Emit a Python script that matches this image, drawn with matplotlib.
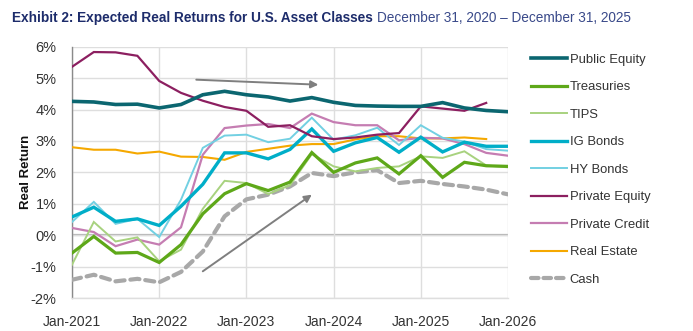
import matplotlib
matplotlib.use("Agg")
import matplotlib.pyplot as plt
from matplotlib.lines import Line2D

# Quarter-end observations, Dec 2020 .. Dec 2025 (index 0 = Jan-2021 tick)
quarters = list(range(21))
year_ticks = [0, 4, 8, 12, 16, 20]
year_labels = ["Jan-2021", "Jan-2022", "Jan-2023", "Jan-2024", "Jan-2025", "Jan-2026"]

public_equity = [4.26, 4.24, 4.16, 4.17, 4.05, 4.16, 4.47, 4.58, 4.47, 4.40, 4.27,
                 4.38, 4.23, 4.13, 4.11, 4.10, 4.10, 4.22, 4.05, 3.97, 3.93]
treasuries = [-0.57, -0.04, -0.57, -0.55, -0.87, -0.30, 0.68, 1.32, 1.64, 1.42, 1.69,
              2.63, 2.00, 2.30, 2.46, 1.95, 2.53, 1.84, 2.32, 2.21, 2.19]
tips = [-0.94, 0.42, -0.20, -0.07, -0.83, -0.46, 0.84, 1.73, 1.66, 1.31, 1.59,
        2.58, 2.19, 2.03, 2.14, 2.19, 2.51, 2.46, 2.67, 2.22, 2.16]
ig_bonds = [0.58, 0.89, 0.44, 0.52, 0.31, 0.92, 1.62, 2.62, 2.62, 2.43, 2.73,
            3.38, 2.67, 2.94, 3.11, 2.64, 3.12, 2.65, 2.96, 2.83, 2.83]
hy_bonds = [0.42, 1.06, 0.36, 0.52, -0.06, 1.13, 2.78, 3.17, 3.20, 2.96, 3.07,
            3.74, 3.04, 3.18, 3.42, 2.87, 3.50, 3.10, 2.98, 2.74, 2.69]
private_equity = [5.36, 5.83, 5.82, 5.71, 4.91, 4.53, 4.28, 4.08, 3.96, 3.45, 3.50,
                  3.15, 3.06, 3.11, 3.20, 3.25, 4.10, 4.03, 3.96, 4.21]
private_credit = [0.23, 0.10, -0.35, -0.14, -0.30, 0.25, 2.56, 3.41, 3.49, 3.54, 3.41,
                  3.87, 3.60, 3.50, 3.50, 3.02, 3.10, 3.08, 2.90, 2.62, 2.53]
real_estate = [2.80, 2.72, 2.72, 2.60, 2.66, 2.50, 2.49, 2.40, 2.65, 2.75, 2.85,
               2.90, 2.90, 3.05, 3.15, 3.15, 3.08, 3.08, 3.11, 3.06]
cash = [-1.42, -1.26, -1.47, -1.39, -1.50, -1.17, -0.52, 0.60, 1.14, 1.29, 1.55,
        1.98, 1.88, 2.00, 2.07, 1.66, 1.73, 1.63, 1.55, 1.45, 1.30]

# Trend arrows (start, end) in quarter / percent units
arrow_down = ((5.7, 4.95), (11.3, 4.79))
arrow_up = ((6.0, -1.15), (11.0, 1.29))

TITLE_BOLD = "Exhibit 2: Expected Real Returns for U.S. Asset Classes"
TITLE_DATES = "December 31, 2020 \u2013 December 31, 2025"

plt.rcParams["font.family"] = ["Liberation Sans", "DejaVu Sans"]

fig = plt.figure(figsize=(6.93, 3.31), dpi=100)
ax = fig.add_axes([72 / 693, 1 - 298 / 331, (508 - 72) / 693, (298 - 46.7) / 331])

series = [
    ("Public Equity", public_equity, "#0b6670", 2.6, "-"),
    ("Treasuries", treasuries, "#5ea819", 2.3, "-"),
    ("TIPS", tips, "#a8d27f", 1.4, "-"),
    ("IG Bonds", ig_bonds, "#00aec8", 2.4, "-"),
    ("HY Bonds", hy_bonds, "#72d0e2", 1.4, "-"),
    ("Private Equity", private_equity, "#8c1f60", 1.6, "-"),
    ("Private Credit", private_credit, "#c57db2", 1.6, "-"),
    ("Real Estate", real_estate, "#f5a800", 1.5, "-"),
    ("Cash", cash, "#a8a8a8", 3.0, (0, (2.2, 1.4))),
]

draw_order = ["Cash", "Real Estate", "Private Credit", "HY Bonds", "TIPS",
              "Treasuries", "IG Bonds", "Private Equity", "Public Equity"]
handles = []
for name, vals, color, lw, ls in series:
    z = 3 + draw_order.index(name)
    ax.plot(quarters[:len(vals)], vals, color=color, lw=lw, ls=ls, zorder=z,
            solid_joinstyle="miter", dash_capstyle="round")
    handles.append(Line2D([], [], color=color, lw=lw, ls=ls if name != "Cash" else (0, (1.8, 1.2)),
                          dash_capstyle="round"))

for (x0, y0), (x1, y1) in (arrow_down, arrow_up):
    ax.annotate("", xy=(x1, y1), xytext=(x0, y0), zorder=20,
                arrowprops=dict(arrowstyle="-|>", color="#7f7f7f", lw=1.4,
                                mutation_scale=11, shrinkA=0, shrinkB=0))

ax.set_xlim(0, 20)
ax.set_ylim(-2, 6)
ax.set_xticks(year_ticks)
ax.set_xticklabels(year_labels)
ax.set_yticks(range(-2, 7))
ax.set_yticklabels([f"{v}%" for v in range(-2, 7)])
ax.grid(True, color="#dedede", lw=1.0, zorder=0)
ax.axhline(0, color="#b3b3b3", lw=1.6, zorder=1)
for s in ["top", "right"]:
    ax.spines[s].set_visible(False)
ax.spines["left"].set_color("#8a8a8a")
ax.spines["left"].set_linewidth(1.0)
ax.spines["bottom"].set_color("#dedede")
ax.spines["bottom"].set_linewidth(1.0)
ax.tick_params(axis="x", length=0, labelsize=10, colors="#333333", pad=12)
ax.tick_params(axis="y", length=0, labelsize=10.5, colors="#333333", pad=11)
ax.set_ylabel("Real Return", fontsize=9.5, fontweight="bold", color="#111111")
ax.yaxis.set_label_coords(-0.092, 0.5)

leg = fig.legend(handles, [s[0] for s in series], loc="upper left",
                 bbox_to_anchor=(531 / 693, 1 - 53.5 / 331), frameon=False,
                 fontsize=9.4, handlelength=2.75, handletextpad=0.2,
                 labelspacing=1.18, borderaxespad=0, borderpad=0)
for t in leg.get_texts():
    t.set_color("#333333")

# Title: bold lead followed by the date range
t1 = fig.text(12 / 693, 1 - 18 / 331, TITLE_BOLD, fontsize=9.8, fontweight="bold",
              color="#1d2c6b", va="center", ha="left")
t2 = fig.text(0, 1 - 18 / 331, TITLE_DATES, fontsize=9.8, color="#3a4a8a",
              va="center", ha="left")
fig.canvas.draw()
r = fig.canvas.get_renderer()
t2.set_x((12 + t1.get_window_extent(r).width + 4) / 693)

fig.savefig("out.png", dpi=100, facecolor="white")
